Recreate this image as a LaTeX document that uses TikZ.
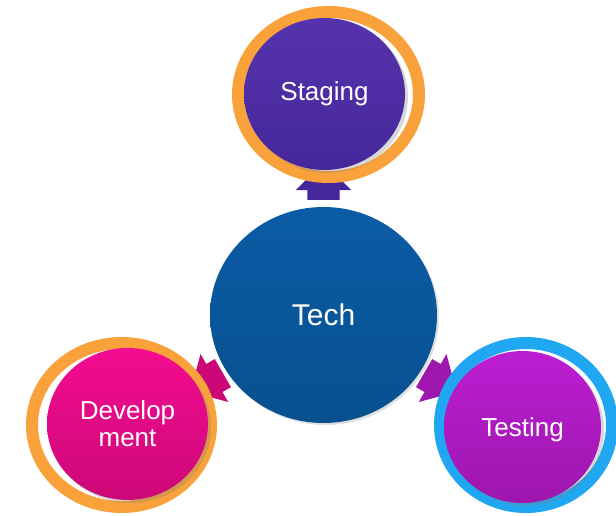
\documentclass[tikz,border=0pt]{standalone}
\usepackage{fontspec}
\setmainfont{Liberation Sans}
\usetikzlibrary{positioning,calc,shapes.geometric,shapes.arrows,shadows}
\definecolor{ringorange}{HTML}{F9A13A}
\definecolor{ringblue}{HTML}{1FA7F2}
\definecolor{techblue}{HTML}{0B5CA6}
\definecolor{techdark}{HTML}{08508F}
\definecolor{stagetop}{HTML}{5633AE}
\definecolor{stagebot}{HTML}{46279A}
\definecolor{devtop}{HTML}{F40C90}
\definecolor{devbot}{HTML}{CC0878}
\definecolor{testtop}{HTML}{BC1ED2}
\definecolor{testbot}{HTML}{9E16AE}
\tikzset{
    ring/.style={
      ellipse,
      draw, line width=12pt,
      fill=white,
      inner sep=0pt},
    ball/.style={
      ellipse,
      inner sep=0pt,
      text=white,
      align=center,
      font=\fontsize{26}{27}\selectfont,
      drop shadow={opacity=0.3, shadow xshift=3pt, shadow yshift=-3pt}},
    hub/.style={
      ellipse,
      inner sep=0pt,
      text=white,
      font=\fontsize{30}{32}\selectfont,
      top color=techblue, bottom color=techdark,
      minimum width=227pt, minimum height=216pt,
      drop shadow={opacity=0.25, shadow xshift=2pt, shadow yshift=-2pt}},
    pointer/.style={
      single arrow,
      anchor=tail,
      inner xsep=0pt, inner ysep=16pt,
      minimum height=37.5pt,
      single arrow head extend=11.5pt},
}

\begin{document}
\begin{tikzpicture}[x=1pt,y=1pt]
    \useasboundingbox (0,0) rectangle (616,515);
    % centre
    \node (tech) [hub] at (323.5,200) {Tech};
    % arrows, tips go under the rings
    \node (up) [pointer, fill=stagebot, rotate=90]
          at ($(tech)+(90:115)$) {};
    \node (downleft) [pointer, fill=devbot, rotate=210]
          at ($(tech)+(210:116)$) {};
    \node (downright) [pointer, fill=testbot, rotate=-30]
          at ($(tech)+(-30:116)$) {};
    % outer circles
    \node (stagering) [ring, draw=ringorange,
          minimum width=181pt, minimum height=165pt] at (328.5,420.5) {};
    \node (staging) [ball, top color=stagetop, bottom color=stagebot,
          minimum width=161pt, minimum height=152pt] at (324.5,421)
          {Staging};
    \node (devring) [ring, draw=ringorange,
          minimum width=179pt, minimum height=164pt] at (121.5,90) {};
    \node (dev) [ball, top color=devtop, bottom color=devbot,
          minimum width=161pt, minimum height=152pt] at (127.5,91)
          {Develop\\ment};
    \node (testring) [ring, draw=ringblue,
          minimum width=172pt, minimum height=164pt] at (526,90) {};
    \node (testing) [ball, top color=testtop, bottom color=testbot,
          minimum width=157pt, minimum height=152pt, text depth=0pt] at (522.5,88)
          {Testing};
\end{tikzpicture}
\end{document}
